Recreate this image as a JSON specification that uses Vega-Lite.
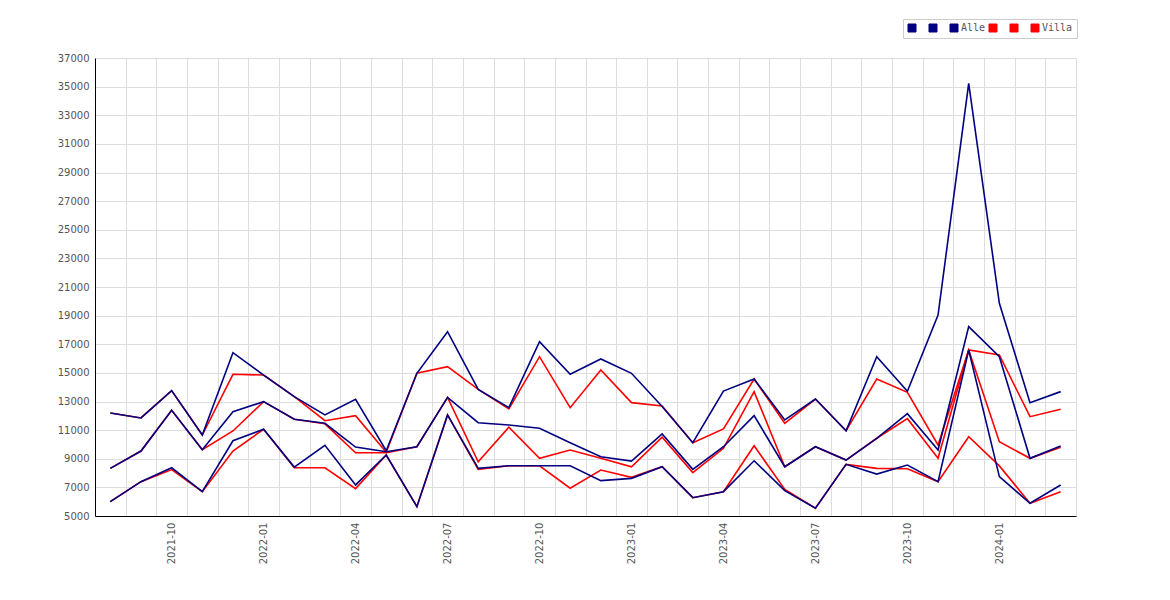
{
  "$schema": "https://vega.github.io/schema/vega-lite/v6.json",
  "width": 981,
  "height": 458,
  "autosize": "none",
  "padding": {"left": 95, "top": 58, "right": 94, "bottom": 84},
  "background": "#ffffff",
  "config": {"view": {"stroke": null}},
  "datasets": {
    "prices": [
      {"month": "2021-08", "A1": 12200, "A2": 8330, "Alle": 6000, "V1": 12200, "V2": 8330, "Villa": 6000},
      {"month": "2021-09", "A1": 11850, "A2": 9540, "Alle": 7400, "V1": 11850, "V2": 9540, "Villa": 7400},
      {"month": "2021-10", "A1": 13760, "A2": 12380, "Alle": 8370, "V1": 13760, "V2": 12380, "Villa": 8240},
      {"month": "2021-11", "A1": 10660, "A2": 9630, "Alle": 6700, "V1": 10660, "V2": 9630, "Villa": 6700},
      {"month": "2021-12", "A1": 16410, "A2": 12290, "Alle": 10260, "V1": 14900, "V2": 10940, "Villa": 9540},
      {"month": "2022-01", "A1": 14850, "A2": 12990, "Alle": 11060, "V1": 14850, "V2": 12990, "Villa": 11060},
      {"month": "2022-02", "A1": 13340, "A2": 11760, "Alle": 8420, "V1": 13340, "V2": 11760, "Villa": 8370},
      {"month": "2022-03", "A1": 12060, "A2": 11480, "Alle": 9940, "V1": 11660, "V2": 11440, "Villa": 8370},
      {"month": "2022-04", "A1": 13150, "A2": 9820, "Alle": 7170, "V1": 12010, "V2": 9420, "Villa": 6910},
      {"month": "2022-05", "A1": 9560, "A2": 9490, "Alle": 9260, "V1": 9450, "V2": 9420, "Villa": 9260},
      {"month": "2022-06", "A1": 14970, "A2": 9840, "Alle": 5650, "V1": 14970, "V2": 9840, "Villa": 5650},
      {"month": "2022-07", "A1": 17880, "A2": 13290, "Alle": 12060, "V1": 15430, "V2": 13290, "Villa": 12060},
      {"month": "2022-08", "A1": 13850, "A2": 11520, "Alle": 8330, "V1": 13850, "V2": 8790, "Villa": 8260},
      {"month": "2022-09", "A1": 12570, "A2": 11360, "Alle": 8510, "V1": 12480, "V2": 11200, "Villa": 8510},
      {"month": "2022-10", "A1": 17180, "A2": 11130, "Alle": 8510, "V1": 16130, "V2": 9030, "Villa": 8510},
      {"month": "2022-11", "A1": 14900, "A2": 10120, "Alle": 8510, "V1": 12570, "V2": 9610, "Villa": 6940},
      {"month": "2022-12", "A1": 15970, "A2": 9140, "Alle": 7470, "V1": 15200, "V2": 9030, "Villa": 8210},
      {"month": "2023-01", "A1": 14970, "A2": 8840, "Alle": 7630, "V1": 12920, "V2": 8440, "Villa": 7700},
      {"month": "2023-02", "A1": 12650, "A2": 10730, "Alle": 8440, "V1": 12690, "V2": 10500, "Villa": 8440},
      {"month": "2023-03", "A1": 10120, "A2": 8260, "Alle": 6280, "V1": 10120, "V2": 8030, "Villa": 6280},
      {"month": "2023-04", "A1": 13730, "A2": 9840, "Alle": 6700, "V1": 11080, "V2": 9730, "Villa": 6700},
      {"month": "2023-05", "A1": 14570, "A2": 12010, "Alle": 8860, "V1": 14570, "V2": 13690, "Villa": 9910},
      {"month": "2023-06", "A1": 11710, "A2": 8440, "Alle": 6770, "V1": 11480, "V2": 8440, "Villa": 6850},
      {"month": "2023-07", "A1": 13170, "A2": 9840, "Alle": 5540, "V1": 13170, "V2": 9840, "Villa": 5540},
      {"month": "2023-08", "A1": 10960, "A2": 8910, "Alle": 8610, "V1": 10960, "V2": 8910, "Villa": 8610},
      {"month": "2023-09", "A1": 16130, "A2": 10430, "Alle": 7930, "V1": 14570, "V2": 10430, "Villa": 8330},
      {"month": "2023-10", "A1": 13710, "A2": 12150, "Alle": 8560, "V1": 13640, "V2": 11800, "Villa": 8300},
      {"month": "2023-11", "A1": 19040, "A2": 9610, "Alle": 7400, "V1": 9960, "V2": 9030, "Villa": 7400},
      {"month": "2023-12", "A1": 35230, "A2": 18230, "Alle": 16600, "V1": 16600, "V2": 16600, "Villa": 10540},
      {"month": "2024-01", "A1": 19860, "A2": 16130, "Alle": 7750, "V1": 16250, "V2": 10190, "Villa": 8500},
      {"month": "2024-02", "A1": 12920, "A2": 9030, "Alle": 5890, "V1": 11940, "V2": 9030, "Villa": 5890},
      {"month": "2024-03", "A1": 13690, "A2": 9890, "Alle": 7170, "V1": 12460, "V2": 9800, "Villa": 6700}
    ]
  },
  "data": {"name": "prices"},
  "transform": [
    {"fold": ["A1", "A2", "Alle", "V1", "V2", "Villa"], "as": ["series", "value"]},
    {"calculate": "indexof(['V1', 'V2', 'Villa'], datum.series) >= 0 ? 'Villa' : 'Alle'", "as": "group"}
  ],
  "encoding": {
    "x": {
      "field": "month",
      "type": "ordinal",
      "bandPosition": 0.5,
      "scale": {"type": "band", "paddingInner": 0, "paddingOuter": 0},
      "axis": {
        "title": null,
        "tickBand": "extent",
        "ticks": false,
        "grid": true,
        "gridColor": "#dddddd",
        "domainColor": "#000000",
        "labelAngle": -90,
        "labelOverlap": false,
        "labelPadding": 6,
        "labelFont": "DejaVu Sans",
        "labelFontSize": 10,
        "labelColor": "#555555",
        "labelExpr": "indexof(['01', '04', '07', '10'], substring(datum.value, 5, 7)) >= 0 ? datum.value : ''"
      }
    },
    "y": {
      "field": "value",
      "type": "quantitative",
      "scale": {"domain": [5000, 37000], "nice": false, "zero": false},
      "axis": {
        "title": null,
        "values": [5000, 7000, 9000, 11000, 13000, 15000, 17000, 19000, 21000, 23000, 25000, 27000, 29000, 31000, 33000, 35000, 37000],
        "format": "d",
        "ticks": false,
        "grid": true,
        "gridColor": "#dddddd",
        "domainColor": "#000000",
        "labelPadding": 6,
        "labelFont": "DejaVu Sans",
        "labelFontSize": 10,
        "labelColor": "#555555"
      }
    },
    "color": {
      "field": "series",
      "type": "nominal",
      "scale": {
        "domain": ["A1", "A2", "Alle", "V1", "V2", "Villa"],
        "range": ["#000080", "#000080", "#000080", "#ff0000", "#ff0000", "#ff0000"]
      },
      "legend": {
        "title": null,
        "orient": "none",
        "legendX": 808,
        "legendY": -39,
        "direction": "horizontal",
        "symbolType": "square",
        "symbolSize": 64,
        "symbolStrokeWidth": 1,
        "labelFont": "DejaVu Sans Mono",
        "labelFontSize": 10,
        "labelColor": "#555555",
        "labelOffset": 2,
        "columnPadding": 1,
        "padding": 4,
        "strokeColor": "#cccccc",
        "fillColor": "#ffffff",
        "labelExpr": "datum.value == 'Alle' || datum.value == 'Villa' ? datum.value : 'x'",
        "encode": {
          "symbols": {
            "update": {
              "fill": {"scale": "color", "field": "value"},
              "fillOpacity": {"value": 1},
              "stroke": {"value": "#666666"}
            }
          },
          "labels": {
            "update": {
              "fill": {"signal": "datum.value == 'Alle' || datum.value == 'Villa' ? '#555555' : 'transparent'"}
            }
          }
        }
      }
    }
  },
  "layer": [
    {
      "transform": [{"filter": "datum.group == 'Villa'"}],
      "mark": {"type": "line", "strokeWidth": 1.6}
    },
    {
      "transform": [{"filter": "datum.group == 'Alle'"}],
      "mark": {"type": "line", "strokeWidth": 1.6}
    }
  ]
}
